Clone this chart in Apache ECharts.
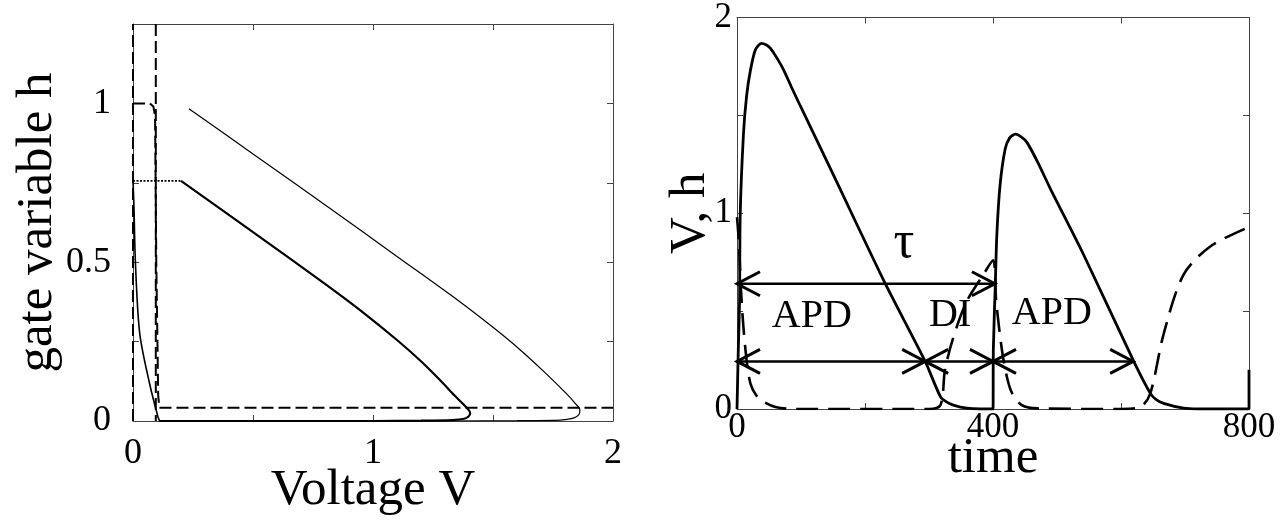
<!DOCTYPE html>
<html>
<head>
<meta charset="utf-8">
<script src="https://cdn.jsdelivr.net/npm/echarts@6/dist/echarts.min.js"></script>
<style>
  html, body { margin: 0; padding: 0; background: #fff; }
  #chart { width: 1285px; height: 522px; }
</style>
</head>
<body>
<div id="chart"></div>
<script>
// Left panel: phase plane (V, h)
var firstOrbit = [[0.233, 0.983], [0.5, 0.841], [0.82, 0.67], [1.1, 0.518], [1.352, 0.381],
    [1.5, 0.295], [1.615, 0.223], [1.72, 0.15], [1.806, 0.086], [1.843, 0.055], [1.862, 0.035],
    [1.858, 0.02], [1.835, 0.009], [1.78, 0.003], [1.6, 0.001], [1.3, 0], [0.11, 0]];
var secondOrbit = [[0.2, 0.756], [0.5, 0.595], [0.8, 0.432], [0.95, 0.347], [1.1, 0.255],
    [1.2, 0.188], [1.28, 0.128], [1.34, 0.08], [1.38, 0.05], [1.398, 0.035], [1.405, 0.025],
    [1.398, 0.014], [1.38, 0.007], [1.33, 0.003], [1.2, 0.001], [1.0, 0], [0.11, 0]];
var recovery = [[0.111, 0], [0.104, 0.013], [0.069, 0.118], [0.028, 0.276], [0.01, 0.5],
    [0.004, 0.675], [0, 0.756]];
var stimulus = [[0, 0.756], [0.2, 0.756]];
var nullV0 = [[0, 0], [0, 1.25]];
var nullV1 = [[0.095, 1.25], [0.095, 0]];
var nullH = [[0, 1], [0.07, 1], [0.085, 0.99], [0.092, 0.96], [0.097, 0.5], [0.105, 0.08],
    [0.11, 0.042], [2, 0.042]];

// Right panel: time traces
var vTrace = [[0, 0], [2, 0.3], [4, 0.55], [5, 0.99], [10, 1.40], [15, 1.6], [21, 1.73],
    [28.6, 1.834], [38, 1.868], [46, 1.86], [52, 1.843], [62, 1.795], [72.8, 1.733], [85, 1.645],
    [99, 1.548], [151, 1.193], [231.7, 0.64], [294, 0.243], [318, 0.062], [328, 0.035],
    [338, 0.02], [359, 0.004], [380, 0], [400, 0], [400.5, 0.3], [403.6, 0.636], [406, 0.89],
    [411, 1.143], [419, 1.328], [426, 1.385], [435, 1.404], [444, 1.39], [453, 1.362],
    [470, 1.26], [489.5, 1.126], [541.6, 0.788], [619, 0.25], [645.8, 0.08], [655, 0.048],
    [666.6, 0.029], [697.8, 0.004], [720, 0], [800, 0], [800, 0.2]];
var hTrace = [[0, 0.98], [3, 0.85], [6, 0.62], [10, 0.42], [15, 0.25], [21, 0.13], [30, 0.07],
    [40, 0.04], [60, 0.01], [90, 0], [300, 0], [318, 0.02], [325, 0.2], [338, 0.366],
    [359, 0.55], [385, 0.687], [400, 0.76], [405, 0.55], [414, 0.3], [422, 0.16], [430, 0.08],
    [445, 0.02], [470, 0.003], [600, 0], [630, 0.01], [645.8, 0.08], [666.6, 0.383],
    [697.8, 0.687], [739.5, 0.83], [800, 0.93]];

// arrows (time from, time to, level)
var arrowStart = [0, 0, 294, 400];
var arrowEnd = [403, 294, 400, 619];
var arrowLevel = [0.64, 0.243, 0.243, 0.243];

var annoText = ['APD', 'DI', 'APD', 'τ'];
var annoT = [117, 333, 492, 261];
var annoV = [0.472, 0.48, 0.486, 0.846];

var FONT = 'Liberation Serif';
var AX = '#444';

function frameAxis(grid, pos, min, max, interval, opts) {
    var a = {
        gridIndex: grid, type: 'value', position: pos, min: min, max: max, interval: interval,
        axisLine: {show: true, onZero: false, lineStyle: {color: AX, width: 1}},
        axisTick: {show: true, inside: true, length: 6, lineStyle: {color: AX, width: 1}},
        splitLine: {show: false},
        axisLabel: {show: false}
    };
    return Object.assign(a, opts || {});
}

function line(data, xi, yi, width, type, smooth) {
    return {
        type: 'line', data: data, xAxisIndex: xi, yAxisIndex: yi, showSymbol: false, symbol: 'none',
        smooth: smooth || false,
        lineStyle: {color: '#000', width: width, type: type || 'solid'}, silent: true, z: 3
    };
}

var chart = echarts.init(document.getElementById('chart'));

var option = {
    animation: false,
    backgroundColor: '#fff',
    grid: [
        {left: 133, top: 24, width: 480, height: 397},
        {left: 737, top: 14, width: 512, height: 395}
    ],
    xAxis: [
        frameAxis(0, 'bottom', 0, 2, 0.5, {
            name: 'Voltage V', nameLocation: 'middle', nameGap: 44, nameMoveOverlap: false,
            nameTextStyle: {fontFamily: FONT, fontSize: 51, color: '#000'},
            axisLabel: {show: true, margin: 15, fontFamily: FONT, fontSize: 36, color: '#000',
                formatter: function (v) { return v % 1 === 0 ? String(v) : ''; }}
        }),
        frameAxis(0, 'top', 0, 2, 0.5),
        frameAxis(1, 'bottom', 0, 800, 200, {
            name: 'time', nameLocation: 'middle', nameGap: 24, nameMoveOverlap: false,
            nameTextStyle: {fontFamily: FONT, fontSize: 51, color: '#000'},
            axisLabel: {show: true, margin: 1, fontFamily: FONT, fontSize: 35, color: '#000',
                formatter: function (v) { return v % 400 === 0 ? String(v) : ''; }}
        }),
        frameAxis(1, 'top', 0, 800, 200)
    ],
    yAxis: [
        frameAxis(0, 'left', 0, 1.25, 0.25, {
            name: 'gate variable h', nameLocation: 'middle', nameGap: 70, nameMoveOverlap: false,
            nameTextStyle: {fontFamily: FONT, fontSize: 51, color: '#000'},
            axisLabel: {show: true, margin: 22, fontFamily: FONT, fontSize: 36, color: '#000',
                formatter: function (v) { return v % 0.5 === 0 ? String(v) : ''; }}
        }),
        frameAxis(0, 'right', 0, 1.25, 0.25),
        frameAxis(1, 'left', 0, 2, 0.5, {
            name: 'V, h', nameLocation: 'middle', nameGap: 21, nameMoveOverlap: false,
            nameTextStyle: {fontFamily: FONT, fontSize: 51, color: '#000'},
            axisLabel: {show: true, margin: 5, fontFamily: FONT, fontSize: 35, color: '#000',
                formatter: function (v) { return v % 1 === 0 ? String(v) : ''; }}
        }),
        frameAxis(1, 'right', 0, 2, 0.5)
    ],
    series: [
        line(nullV0, 0, 0, 2, [12, 5]),
        line(nullV1, 0, 0, 2, [12, 5]),
        line(nullH, 0, 0, 2, [12, 5]),
        line(stimulus, 0, 0, 1.6, [2, 1.5]),
        line(recovery, 0, 0, 1.6, null, 0.3),
        line(firstOrbit, 0, 0, 1.2, null, 0.3),
        line(secondOrbit, 0, 0, 2.2, null, 0.3),
        line(hTrace, 2, 2, 2.6, [22, 10], 0.3),
        line(vTrace, 2, 2, 2.8, null, 0.25),
        {
            type: 'custom', xAxisIndex: 2, yAxisIndex: 2, silent: true, z: 4,
            data: arrowStart.map(function (s, i) { return [s, arrowLevel[i], arrowEnd[i]]; }),
            renderItem: function (params, api) {
                var a = api.coord([api.value(0), api.value(1)]);
                var b = api.coord([api.value(2), api.value(1)]);
                var L = 23, W = 12;
                var st = {stroke: '#000', lineWidth: 3, fill: null};
                return {
                    type: 'group',
                    children: [
                        {type: 'line', shape: {x1: a[0], y1: a[1], x2: b[0], y2: b[1]},
                            style: {stroke: '#000', lineWidth: 2.5}},
                        {type: 'polyline', shape: {points: [[a[0] + L, a[1] - W], a, [a[0] + L, a[1] + W]]}, style: st},
                        {type: 'polyline', shape: {points: [[b[0] - L, b[1] - W], b, [b[0] - L, b[1] + W]]}, style: st}
                    ]
                };
            }
        },
        {
            type: 'custom', xAxisIndex: 2, yAxisIndex: 2, silent: true, z: 5,
            data: annoText.map(function (t, i) { return [annoT[i], annoV[i], i]; }),
            renderItem: function (params, api) {
                var p = api.coord([api.value(0), api.value(1)]);
                var txt = annoText[api.value(2)];
                var size = txt === 'τ' ? 52 : 40;
                return {
                    type: 'text',
                    style: {
                        text: txt, x: p[0], y: p[1], fill: '#000',
                        font: size + 'px "' + FONT + '"', align: 'center', verticalAlign: 'middle'
                    }
                };
            }
        }
    ]
};

chart.setOption(option);
</script>
</body>
</html>
